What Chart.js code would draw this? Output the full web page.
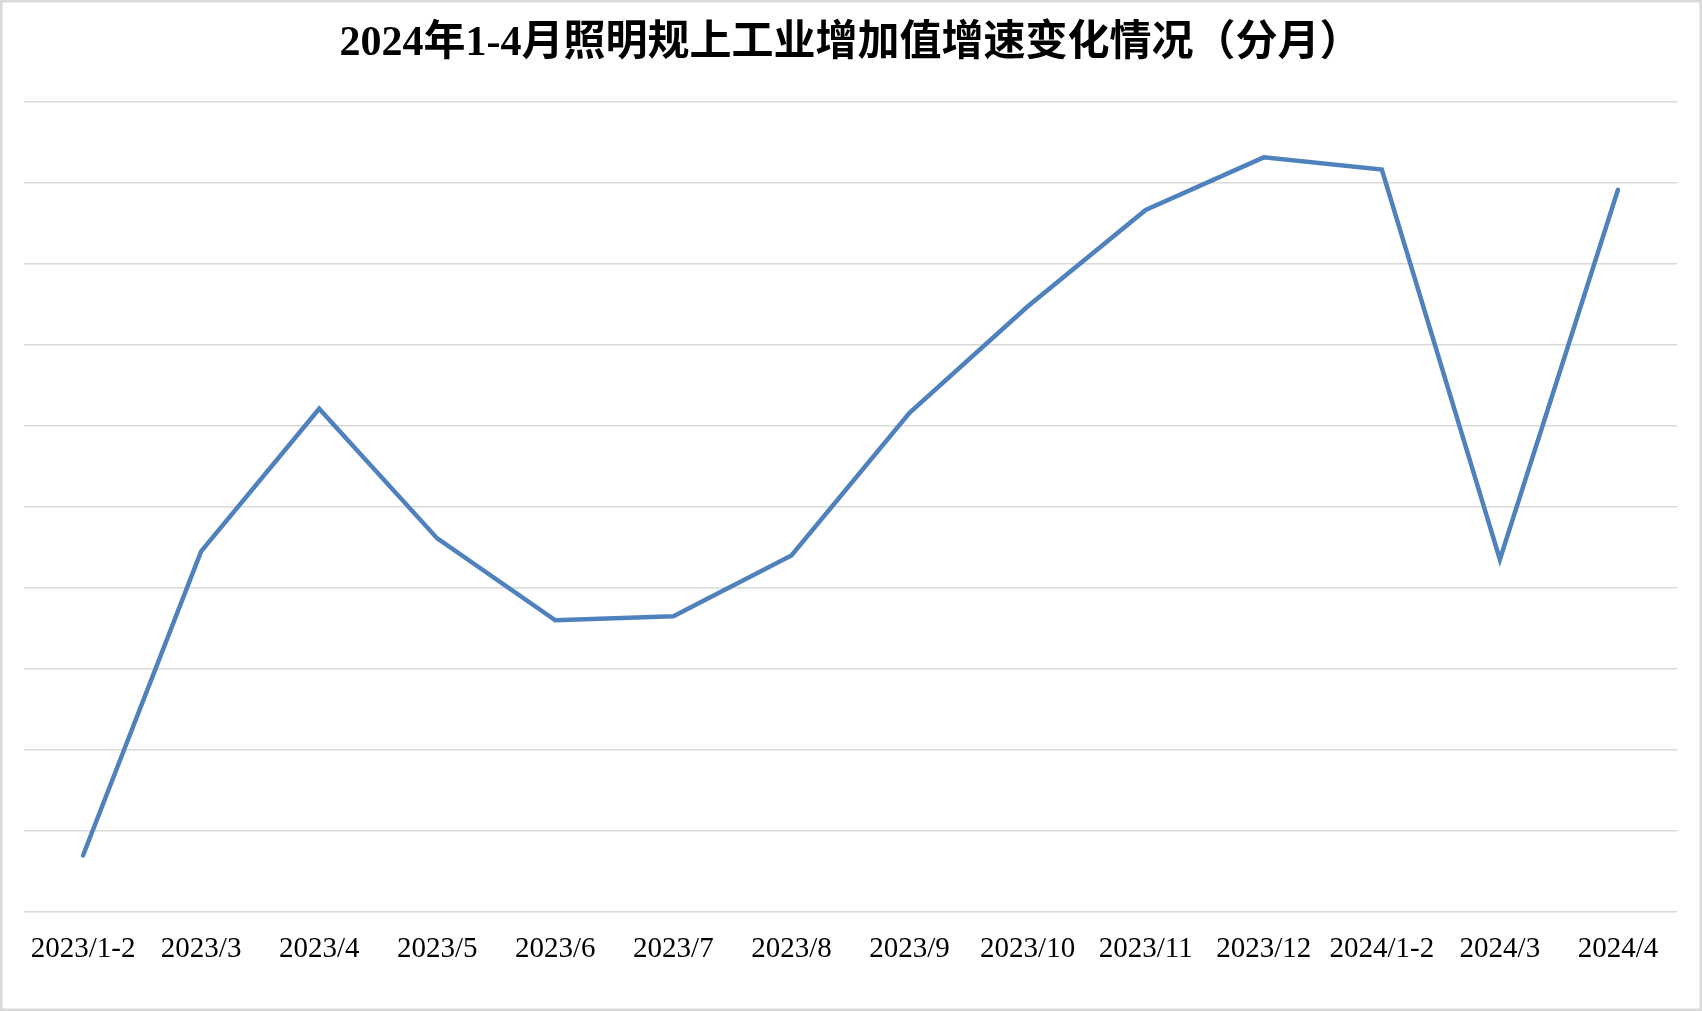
<!DOCTYPE html>
<html>
<head>
<meta charset="utf-8">
<script src="https://cdn.jsdelivr.net/npm/chart.js@4/dist/chart.umd.min.js"></script>
<style>
  html, body { margin: 0; padding: 0; background: #fff; }
  #wrap { position: relative; width: 1702px; height: 1011px; }
  canvas { display: block; }
</style>
</head>
<body>
<div id="wrap"><canvas id="c" width="1702" height="1011"></canvas></div>
<script>
const titleText = '2024年1-4月照明规上工业增加值增速变化情况（分月）';
const categories = ['2023/1-2','2023/3','2023/4','2023/5','2023/6','2023/7','2023/8','2023/9','2023/10','2023/11','2023/12','2024/1-2','2024/3','2024/4'];
const growthValues = [0.70, 4.45, 6.21, 4.61, 3.60, 3.65, 4.40, 6.16, 7.47, 8.66, 9.31, 9.16, 4.35, 8.91];
const yMin = 0;
const yMax = 10;
const yStep = 1;

const borderPlugin = {
  id: 'frame',
  afterDraw(chart) {
    const ctx = chart.ctx;
    ctx.save();
    ctx.strokeStyle = '#d9d9d9';
    ctx.lineWidth = 3;
    ctx.strokeRect(1, 1, chart.width - 2, chart.height - 2);
    ctx.restore();
  }
};

new Chart(document.getElementById('c'), {
  type: 'line',
  data: {
    labels: categories,
    datasets: [{
      data: growthValues,
      borderColor: '#4f81bd',
      borderWidth: 4.5,
      pointRadius: 0,
      pointHoverRadius: 0,
      tension: 0,
      borderCapStyle: 'round',
      borderJoinStyle: 'miter',
      fill: false
    }]
  },
  options: {
    responsive: false,
    animation: false,
    devicePixelRatio: 1,
    layout: { padding: { left: 24, right: 25, top: 0, bottom: 32 } },
    plugins: {
      legend: { display: false },
      tooltip: { enabled: false },
      title: {
        display: true,
        text: titleText,
        color: '#000',
        font: { family: '"Liberation Serif", "Times New Roman", "Noto Sans CJK SC", serif', size: 42, weight: 'bold' },
        padding: { top: 19, bottom: 32 }
      }
    },
    scales: {
      x: {
        offset: true,
        grid: { display: false },
        border: { display: false },
        ticks: {
          color: '#000',
          font: { family: '"Liberation Serif", "Times New Roman", serif', size: 29 },
          padding: 12,
          maxRotation: 0,
          autoSkip: false
        }
      },
      y: {
        min: yMin,
        max: yMax,
        grid: { color: '#d9d9d9', lineWidth: 1.5, drawTicks: false },
        border: { display: false },
        ticks: { display: false, stepSize: yStep }
      }
    }
  },
  plugins: [borderPlugin]
});
</script>
</body>
</html>
